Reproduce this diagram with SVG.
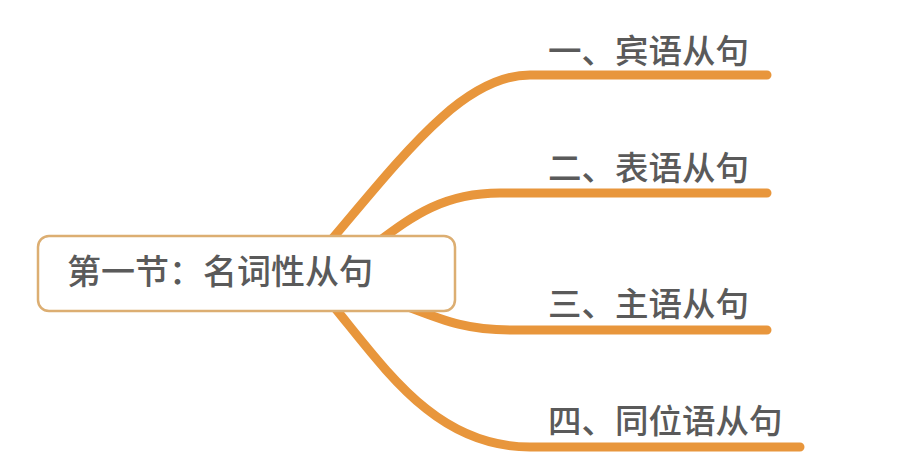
<svg xmlns="http://www.w3.org/2000/svg" width="900" height="472" viewBox="0 0 900 472">
  <style>
    .branch { fill: none; stroke: #e8963c; stroke-width: 9; stroke-linecap: round; stroke-linejoin: round; }
    .label { font-family: "Noto Sans CJK SC", "Noto Sans", sans-serif; font-size: 33.5px; font-weight: 500; fill: #5a5a5a; }
    .root-label { font-size: 34px; }
    .root-box { fill: #ffffff; stroke: #dcae72; stroke-width: 2.5; }
  </style>
  <rect width="900" height="472" fill="#ffffff"/>
  <g id="connectors">
    <path class="branch" d="M 310 265 C 400 160, 460 75, 530 75 L 767 75"/>
    <path class="branch" d="M 350 262 C 400 228, 430 193, 500 193 L 767 193"/>
    <path class="branch" d="M 360 290 C 430 312, 450 330, 510 330 L 767 330"/>
    <path class="branch" d="M 320 290 C 380 360, 430 447, 530 447 L 800 447"/>
  </g>
  <g id="root">
    <rect class="root-box" x="38" y="236" width="417" height="75" rx="11" ry="11"/>
    <text class="label root-label" x="67" y="284">第一节：名词性从句</text>
  </g>
  <g id="node1">
    <text class="label" x="548" y="63">一、宾语从句</text>
  </g>
  <g id="node2">
    <text class="label" x="548" y="180">二、表语从句</text>
  </g>
  <g id="node3">
    <text class="label" x="548" y="316">三、主语从句</text>
  </g>
  <g id="node4">
    <text class="label" x="548" y="433">四、同位语从句</text>
  </g>
</svg>
